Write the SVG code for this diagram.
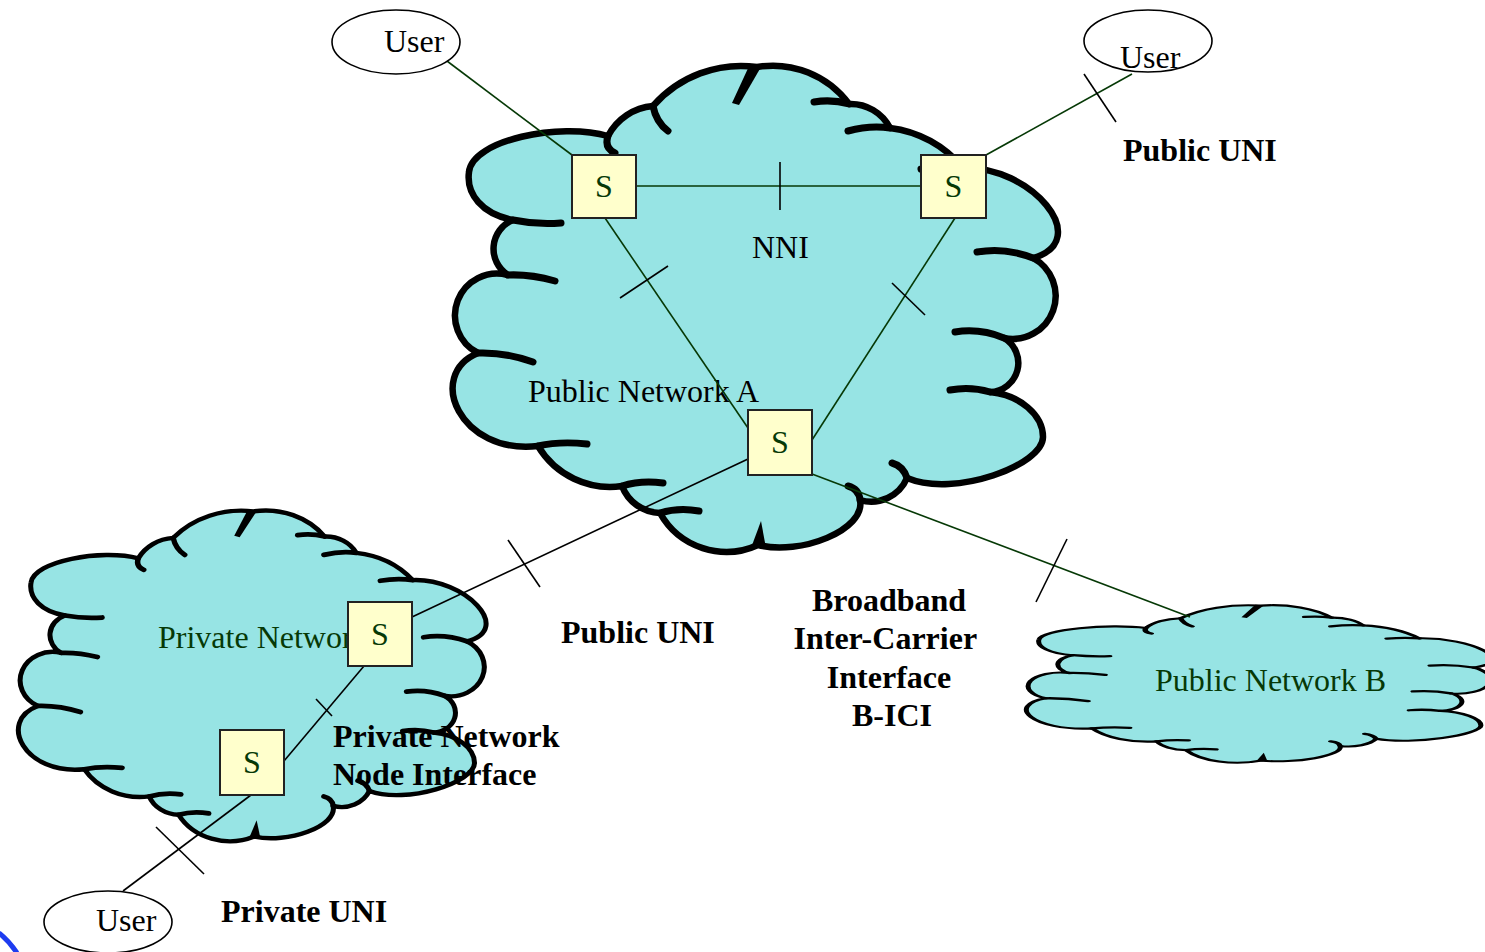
<svg xmlns="http://www.w3.org/2000/svg" width="1485" height="952" viewBox="0 0 1485 952">
<style>
  .link{fill:none;stroke-width:1.6}
  .green{stroke:#063906}
  .black{stroke:#000}
  .tick{fill:none;stroke:#000;stroke-width:1.6}
  .sw{fill:#ffffcc;stroke:#222;stroke-width:2}
  .sw-label{font-family:"Liberation Serif","Times New Roman",serif;font-size:32px;fill:#063906;text-anchor:middle}
  .user{fill:#fff;stroke:#000;stroke-width:1.6}
  .lbl{font-family:"Liberation Serif","Times New Roman",serif;font-size:32px;fill:#000}
  .lbl-g{fill:#063906}
  .bold{font-weight:bold}
</style>
<defs>
  <!-- cloud outline drawn at full size; smaller clouds reuse it scaled -->
  <g id="cloud">
    <path fill="#97e4e4" stroke="#000" stroke-width="6.5" stroke-linejoin="round"
      d="M 757 67
         A 95 95 0 0 1 849 104
         A 44 44 0 0 1 890 128
         A 112 112 0 0 1 963 168
         C 1030 165 1095 240 1033 258
         A 43 43 0 0 1 1004 338
         A 29 29 0 0 1 990 392
         C 1020 395 1043 415 1043 437
         C 1043 465 955 498 907 478
         A 39 39 0 0 1 860 500
         C 866 530 800 556 758 545
         A 76 76 0 0 1 660 513
         A 42 42 0 0 1 622 486
         A 84 84 0 0 1 538 446
         C 460 455 425 375 478 353
         A 42 42 0 0 1 508 275
         A 31 31 0 0 1 513 220
         C 482 214 466 194 469 172
         C 472 140 560 122 608 136
         A 56 56 0 0 1 653 106
         A 117 117 0 0 1 757 67 Z"/>
    <path fill="none" stroke="#000" stroke-width="7" stroke-linecap="round"
      d="M 849 104 Q 832 99 814 102
         M 890 128 Q 870 125 848 131
         M 963 168 Q 942 165 921 169
         M 1033 258 Q 1005 247 977 252
         M 1004 338 Q 980 328 955 332
         M 990 392 Q 970 386 950 390
         M 907 478 Q 903 466 892 463
         M 860 500 Q 859 489 848 486
         M 660 513 Q 679 507 699 511
         M 622 486 Q 641 480 663 483
         M 538 446 Q 560 441 587 444
         M 478 353 Q 505 352 533 362
         M 508 275 Q 530 274 555 281
         M 513 220 Q 537 225 561 223
         M 608 136 Q 604 148 615 153
         M 653 106 Q 656 122 668 131"/>
    <polygon fill="#000" points="750,64 761,67 739,105 732,103"/>
    <polygon fill="#000" points="751,548 766,548 761,521"/>
  </g>
</defs>

<g id="public-network-a">
  <use href="#cloud"/>
  <text class="lbl" x="528" y="402">Public Network A</text>
  <text class="lbl" x="752" y="258">NNI</text>
</g>

<g id="private-network">
  <use href="#cloud" transform="matrix(0.7727 0 0 0.6803 -331.4 465.8)"/>
  <text class="lbl lbl-g" x="158" y="648">Private Network</text>
</g>

<g id="public-network-b">
  <use href="#cloud" transform="matrix(0.77 0 0 0.324 677.8 583.9)"/>
  <text class="lbl lbl-g" x="1155" y="691">Public Network B</text>
</g>

<g id="connectors">
  <path class="link green" d="M 443 58 L 572 155"/>
  <path class="link green" d="M 636 186 L 921 186"/>
  <path class="link green" d="M 605 218 L 748 428"/>
  <path class="link green" d="M 955 218 L 812 440"/>
  <path class="link green" d="M 986 155 L 1132 74"/>
  <path class="link black" d="M 748 459 L 412 617"/>
  <path class="link green" stroke-width="2" d="M 812 474 L 1190 617"/>
  <path class="link black" d="M 364 666 L 284 761"/>
  <path class="link black" d="M 251 795 L 123 891"/>
  <!-- interface crossing marks -->
  <path class="tick" d="M 780 162 L 780 210"/>
  <path class="tick" d="M 620 298 L 668 266"/>
  <path class="tick" d="M 892 283 L 925 315"/>
  <path class="tick" d="M 1084 74 L 1116 122"/>
  <path class="tick" d="M 508 540 L 540 587"/>
  <path class="tick" d="M 1036 602 L 1067 539"/>
  <path class="tick" d="M 316 699 L 332 716"/>
  <path class="tick" d="M 156 827 L 204 874"/>
</g>

<g id="switch-a1"><rect class="sw" x="572" y="155" width="64" height="63"/><text class="sw-label" x="604" y="197">S</text></g>
<g id="switch-a2"><rect class="sw" x="921" y="155" width="65" height="63"/><text class="sw-label" x="953.5" y="197">S</text></g>
<g id="switch-a3"><rect class="sw" x="748" y="410" width="64" height="65"/><text class="sw-label" x="780" y="453">S</text></g>
<g id="switch-p1"><rect class="sw" x="348" y="602" width="64" height="64"/><text class="sw-label" x="380" y="645">S</text></g>
<g id="switch-p2"><rect class="sw" x="220" y="730" width="64" height="65"/><text class="sw-label" x="252" y="773">S</text></g>

<g id="user-1"><ellipse class="user" cx="396" cy="42" rx="64" ry="32"/><text class="lbl" x="384" y="52">User</text></g>
<g id="user-2"><ellipse class="user" cx="1148" cy="41" rx="64" ry="31"/><text class="lbl" x="1120" y="68">User</text></g>
<g id="user-3"><ellipse class="user" cx="108" cy="922" rx="64" ry="31"/><text class="lbl" x="96" y="931">User</text></g>

<g id="labels">
  <text class="lbl bold" x="1123" y="161">Public UNI</text>
  <text class="lbl bold" x="561" y="643">Public UNI</text>
  <text class="lbl bold" text-anchor="middle">
    <tspan x="893" y="611">Broadband</tspan>
    <tspan x="889" y="649">Inter-Carrier</tspan>
    <tspan x="893" y="688">Interface</tspan>
    <tspan x="892" y="726">B-ICI</tspan>
  </text>
  <text class="lbl bold" x="333" y="747">Private Network</text>
  <text class="lbl bold" x="333" y="785">Node Interface</text>
  <text class="lbl bold" x="221" y="922">Private UNI</text>
</g>

<path id="corner-arc" d="M -1 933 Q 9 941 17 953" fill="none" stroke="#1e3cf0" stroke-width="5"/>
</svg>
